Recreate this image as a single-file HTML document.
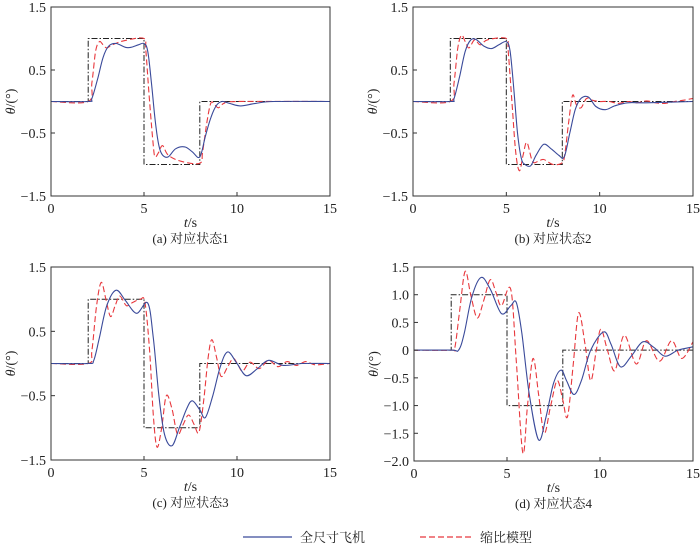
<!DOCTYPE html>
<html><head><meta charset="utf-8"><style>
body{margin:0;background:#fff;}
svg{display:block;font-family:"Liberation Serif","Noto Serif CJK SC",serif;}
</style></head><body>
<svg id="c" width="700" height="546" viewBox="0 0 700 546"></svg>
<script>
// Reference step command
const refT=[0,2,2,5,5,8,8,15];
const refV=[0,0,1,1,-1,-1,0,0];
// Panel a
const aBlueT=[0,2,2.2,2.5,2.8,3.1,3.5,4,4.3,4.7,5,5.2,5.4,5.6,5.8,6,6.3,6.7,7.2,7.6,8,8.3,8.6,8.9,9.2,9.6,10.2,11,12,15];
const aBlueV=[0,0,0.05,0.35,0.7,0.88,0.92,0.86,0.86,0.9,0.92,0.8,0.3,-0.3,-0.7,-0.85,-0.88,-0.75,-0.72,-0.8,-0.88,-0.55,-0.25,-0.06,0,-0.03,-0.07,-0.03,0,0];
const aRedT=[0,2,2.2,2.4,2.6,2.8,3,3.3,4,5,5.1,5.3,5.5,5.6,5.8,6,6.3,7,8,8.15,8.4,8.6,8.8,9,9.3,10,15];
const aRedV=[0,0,0.3,0.8,0.95,0.9,0.85,0.9,0.97,1.0,0.8,0,-0.7,-0.88,-0.8,-0.7,-0.85,-0.95,-0.98,-0.8,-0.3,-0.02,-0.05,-0.1,-0.03,0,0];
// Panel b
const bBlueT=[0,2,2.2,2.5,2.8,3.1,3.4,3.8,4.2,4.6,5,5.2,5.4,5.6,5.8,6,6.3,6.6,7,7.4,7.8,8.1,8.4,8.7,9,9.4,9.8,10.3,10.8,11.5,12.5,15];
const bBlueV=[0,0,0.05,0.4,0.8,0.98,0.98,0.88,0.84,0.9,0.95,0.8,0.2,-0.5,-0.9,-1.0,-1.02,-0.85,-0.68,-0.75,-0.85,-0.88,-0.5,-0.12,0.05,0.07,-0.08,-0.13,-0.07,-0.02,-0.02,0];
const bRedT=[0,2,2.2,2.4,2.6,2.8,3.0,3.3,3.6,4,5,5.1,5.3,5.5,5.7,5.9,6.1,6.4,6.7,7,7.5,8,8.15,8.35,8.55,8.75,9,9.3,9.6,10,10.5,11,11.5,12,12.5,13,13.5,14,14.5,15];
const bRedV=[0,0,0.3,0.85,1.05,0.95,0.85,0.98,0.9,0.98,1.0,0.8,0,-0.8,-1.1,-0.85,-0.65,-0.95,-0.95,-0.92,-1.0,-0.97,-0.8,-0.3,0.1,-0.05,-0.1,0.05,0.02,0,0,-0.03,0,-0.02,0.01,-0.02,-0.03,0,0.02,0.05];
// Panel c
const cBlueT=[0,2,2.3,2.6,3,3.5,4,4.6,5.2,5.5,5.8,6.1,6.5,6.9,7.3,7.6,8,8.3,8.7,9.1,9.5,10,10.5,11.1,11.7,12.5,13.5,15];
const cBlueV=[0,0,0.05,0.4,0.9,1.14,0.98,0.78,0.94,0.4,-0.5,-1.1,-1.28,-1.0,-0.7,-0.58,-0.72,-0.84,-0.5,-0.05,0.18,0,-0.19,-0.08,0.05,-0.03,0,0];
const cRedT=[0,2,2.2,2.45,2.7,2.95,3.2,3.45,3.7,4.05,4.4,4.8,5.05,5.3,5.5,5.7,5.95,6.2,6.5,6.8,7.1,7.4,7.7,7.95,8.2,8.45,8.65,8.9,9.15,9.5,9.8,10.05,10.3,10.7,11.2,11.7,12.2,12.7,13.2,13.7,14.2,15];
const cRedV=[0,0,0.2,0.9,1.26,1.0,0.73,0.9,1.05,0.9,0.95,1.0,0.95,0.2,-0.8,-1.3,-1.0,-0.5,-0.7,-1.1,-0.95,-0.8,-0.95,-1.07,-0.6,0.1,0.37,0.1,-0.2,-0.05,0.08,-0.02,-0.12,0.02,-0.08,0.05,-0.05,0.03,-0.03,0.03,-0.02,0];
// Panel d
const dBlueT=[0,2,2.4,2.7,3.1,3.6,4.1,4.7,5.2,5.5,5.8,6.2,6.7,7.1,7.5,7.9,8.2,8.6,9.0,9.5,10.2,10.6,11.1,11.7,12.3,12.9,13.5,14.2,15];
const dBlueV=[0,0,0,0.3,0.95,1.31,1.1,0.66,0.8,0.86,0.3,-0.8,-1.62,-1.2,-0.6,-0.36,-0.55,-0.8,-0.55,0,0.33,0.1,-0.3,-0.1,0.15,0.05,-0.11,0,0.06];
const dRedT=[0,2,2.2,2.45,2.75,3.05,3.4,3.75,4.1,4.4,4.7,5.2,5.5,5.85,6.1,6.4,6.7,7.0,7.35,7.7,8.0,8.25,8.55,8.85,9.2,9.5,9.8,10.05,10.4,10.8,11.3,11.95,12.5,13.2,13.85,14.4,15];
const dRedV=[0,0,0.05,0.7,1.42,1.0,0.58,0.9,1.27,1.05,0.8,1.1,-0.2,-1.85,-1.0,-0.15,-0.8,-1.5,-1.0,-0.55,-0.9,-1.2,-0.3,0.67,0.1,-0.55,0,0.38,0,-0.37,0.27,-0.25,0.17,-0.2,0.17,-0.15,0.15];
const xTicks=[0,5,10,15];
const yTicksTop=["1.5","0.5","−0.5","−1.5"];const yTickValsTop=[1.5,0.5,-0.5,-1.5];
const yTicksD=["1.5","1.0","0.5","0","−0.5","−1.0","−1.5","−2.0"];const yTickValsD=[1.5,1,0.5,0,-0.5,-1,-1.5,-2];
const captions=["(a) 对应状态1","(b) 对应状态2","(c) 对应状态3","(d) 对应状态4"];

const NS="http://www.w3.org/2000/svg";const svg=document.getElementById('c');
function mk(t,a,p){const e=document.createElementNS(NS,t);for(const k in a)e.setAttribute(k,a[k]);(p||svg).appendChild(e);return e;}
const panels=[
 {x0:51,x1:330,y0:7,y1:196,ymin:-1.5,ymax:1.5,yt:yTickValsTop,yl:yTicksTop,bt:aBlueT,bv:aBlueV,rt:aRedT,rv:aRedV},
 {x0:413,x1:693,y0:7,y1:196,ymin:-1.5,ymax:1.5,yt:yTickValsTop,yl:yTicksTop,bt:bBlueT,bv:bBlueV,rt:bRedT,rv:bRedV},
 {x0:51,x1:330,y0:267,y1:460,ymin:-1.5,ymax:1.5,yt:yTickValsTop,yl:yTicksTop,bt:cBlueT,bv:cBlueV,rt:cRedT,rv:cRedV},
 {x0:414,x1:693,y0:267,y1:461,ymin:-2,ymax:1.5,yt:yTickValsD,yl:yTicksD,bt:dBlueT,bv:dBlueV,rt:dRedT,rv:dRedV}];
function smooth(P){let d='M'+P[0][0].toFixed(1)+','+P[0][1].toFixed(1);
 for(let i=0;i<P.length-1;i++){const p0=P[Math.max(0,i-1)],p1=P[i],p2=P[i+1],p3=P[Math.min(P.length-1,i+2)];
  const c1=[p1[0]+(p2[0]-p0[0])/6,p1[1]+(p2[1]-p0[1])/6],c2=[p2[0]-(p3[0]-p1[0])/6,p2[1]-(p3[1]-p1[1])/6];
  d+=' C'+c1.map(v=>v.toFixed(1))+' '+c2.map(v=>v.toFixed(1))+' '+p2.map(v=>v.toFixed(1));}
 return d;}
panels.forEach((p,i)=>{
 const g=mk('g',{});
 const X=t=>p.x0+(p.x1-p.x0)*t/15, Y=v=>p.y1-(p.y1-p.y0)*(v-p.ymin)/(p.ymax-p.ymin);
 const rp=refT.map((t,k)=>(k?'L':'M')+X(t).toFixed(1)+','+Y(refV[k]).toFixed(1)).join(' ');
 const r=mk('path',{d:rp,fill:'none',stroke:'#222','stroke-width':1,'stroke-dasharray':'6,2,1.5,2'},g);
 
 const red=mk('path',{d:smooth(p.rt.map((t,k)=>[X(t),Y(p.rv[k])])),fill:'none',stroke:'#e8383d','stroke-width':1.1,'stroke-dasharray':'6,3'},g);
 
 const bl=mk('path',{d:smooth(p.bt.map((t,k)=>[X(t),Y(p.bv[k])])),fill:'none',stroke:'#3a4a9a','stroke-width':1.1},g);
 
 const fr=mk('rect',{x:p.x0,y:p.y0,width:p.x1-p.x0,height:p.y1-p.y0,fill:'none',stroke:'#333','stroke-width':1},g);
 
 xTicks.forEach(t=>{mk('line',{x1:X(t),x2:X(t),y1:p.y1,y2:p.y1-4,stroke:'#333'},g);
  const tx=mk('text',{x:X(t),y:p.y1+17,'text-anchor':'middle','font-size':14,fill:'#222'},g);tx.textContent=t;
  });
 p.yt.forEach((v,k)=>{mk('line',{x1:p.x0,x2:p.x0+4,y1:Y(v),y2:Y(v),stroke:'#333'},g);
  const tx=mk('text',{x:p.x0-5,y:Y(v)+5,'text-anchor':'end','font-size':14,fill:'#222'},g);tx.textContent=p.yl[k];
  });
 const xl=mk('text',{x:(p.x0+p.x1)/2,y:p.y1+31,'text-anchor':'middle','font-size':14,fill:'#222'},g);
 xl.innerHTML='<tspan font-style="italic">t</tspan>/s';
 const cx=(p.x0+p.x1)/2, cy=(p.y0+p.y1)/2;
 const yl=mk('text',{x:0,y:0,transform:`translate(${p.x0-36},${cy}) rotate(-90)`,'text-anchor':'middle','font-size':14,fill:'#222'},g);
 yl.innerHTML='<tspan font-style="italic">θ</tspan>/(°)';
 const cp=mk('text',{x:cx,y:p.y1+47,'text-anchor':'middle','font-size':13,fill:'#222'},g);cp.textContent=captions[i];
 
});
const lg=mk('g',{});
mk('line',{x1:243,x2:292,y1:537,y2:537,stroke:'#3a4a9a','stroke-width':1.2},lg);
let t1=mk('text',{x:300,y:542,'font-size':13,fill:'#222'},lg);t1.textContent='全尺寸飞机';

mk('line',{x1:420,x2:472,y1:537,y2:537,stroke:'#e8383d','stroke-width':1.2,'stroke-dasharray':'6,3'},lg);
let t2=mk('text',{x:480,y:542,'font-size':13,fill:'#222'},lg);t2.textContent='缩比模型';

</script>
</body></html>
